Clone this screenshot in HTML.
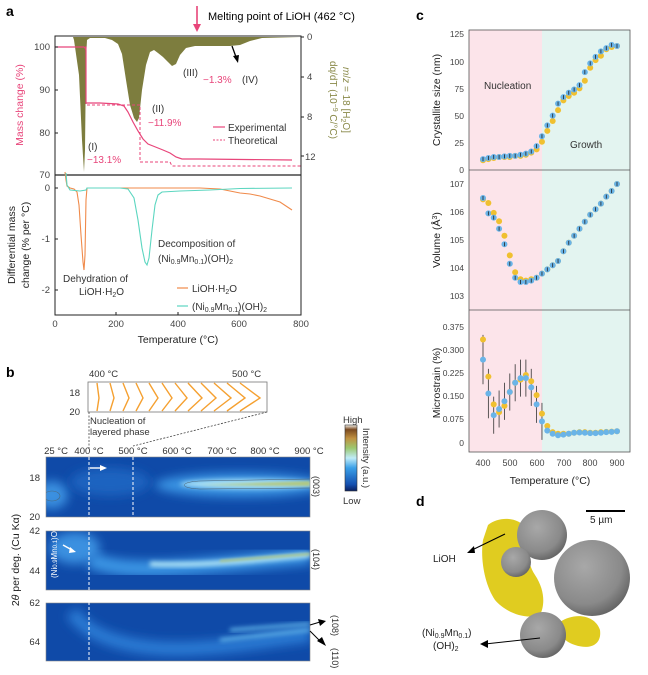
<!DOCTYPE html>
<html><head><meta charset="utf-8"><style>
html,body{margin:0;padding:0;background:#fff;}
svg{display:block;font-family:"Liberation Sans",sans-serif;}
</style></head><body>
<svg width="648" height="675" viewBox="0 0 648 675" xmlns="http://www.w3.org/2000/svg">
<defs>
<filter id="bl" x="-50%" y="-50%" width="200%" height="200%"><feGaussianBlur stdDeviation="5"/></filter>
<filter id="bl2" x="-50%" y="-50%" width="200%" height="200%"><feGaussianBlur stdDeviation="2.5"/></filter>
<filter id="bl3" x="-50%" y="-50%" width="200%" height="200%"><feGaussianBlur stdDeviation="1.2"/></filter>
<clipPath id="h1"><rect x="46" y="457" width="264" height="60"/></clipPath>
<clipPath id="h2"><rect x="46" y="531" width="264" height="59"/></clipPath>
<clipPath id="h3"><rect x="46" y="603" width="264" height="58"/></clipPath>
<radialGradient id="sp" cx="0.4" cy="0.35" r="0.7"><stop offset="0" stop-color="#a8a8a8"/><stop offset="0.7" stop-color="#8a8a8a"/><stop offset="1" stop-color="#606060"/></radialGradient>
<linearGradient id="cb" x1="0" y1="1" x2="0" y2="0">
<stop offset="0" stop-color="#0a1f60"/><stop offset="0.1" stop-color="#1450b0"/><stop offset="0.35" stop-color="#3aa0e8"/><stop offset="0.5" stop-color="#c0ecf8"/><stop offset="0.65" stop-color="#9cc870"/><stop offset="0.8" stop-color="#c09040"/><stop offset="0.93" stop-color="#7a4a20"/><stop offset="1" stop-color="#f4f0e8"/></linearGradient>
</defs>

<text x="6" y="16" font-size="14" font-weight="bold">a</text>
<text x="208" y="20" font-size="11">Melting point of LiOH (462 °C)</text>
<line x1="197" y1="6" x2="197" y2="27" stroke="#e8457a" stroke-width="1.6"/>
<path d="M193,24 L197,32 L201,24 Z" fill="#e8457a"/>

<path d="M73,37 L74,40 L79,75 L82,140 L84,172 L85,150 L86,60 L87,40 L90,38 L105,38 L112,40 L118,44 L122,54 L126,80 L130,105 L134,118 L137,122 L139,118 L142,90 L146,65 L150,52 L154,50 L158,53 L163,57 L168,62 L172,66 L176,64 L180,55 L186,48 L195,46 L230,46 L240,45 L250,41 L262,38 L301,37 Z" fill="#7d7d3e"/>
<polyline points="55,47 84,47 85,48 86,50 86,103 100,103 118,104 124,106 128,112 133,122 138,131 143,139 148,144 153,146 158,148 163,150 170,153 176,157 182,159 200,159 292,160" fill="none" stroke="#e8457a" stroke-width="1.2"/>
<polyline points="55,47 86,47 86,105 140,105 140,162 170,162 172,166 301,166" fill="none" stroke="#e8457a" stroke-width="1" stroke-dasharray="3,2"/>
<rect x="55" y="36" width="246" height="279" fill="none" stroke="#222" stroke-width="1"/>
<line x1="55" y1="175" x2="301" y2="175" stroke="#222" stroke-width="1.2"/>
<g font-size="9.5" text-anchor="end" fill="#444">
<text x="50" y="50">100</text><text x="50" y="93">90</text><text x="50" y="136">80</text><text x="50" y="178">70</text>
<text x="50" y="191">0</text><text x="50" y="242">-1</text><text x="50" y="293">-2</text>
</g>
<g stroke="#222"><line x1="55" y1="47" x2="58" y2="47"/><line x1="55" y1="90" x2="58" y2="90"/><line x1="55" y1="133" x2="58" y2="133"/>
<line x1="55" y1="188" x2="58" y2="188"/><line x1="55" y1="239" x2="58" y2="239"/><line x1="55" y1="290" x2="58" y2="290"/>
<line x1="301" y1="37" x2="304" y2="37"/><line x1="301" y1="77" x2="304" y2="77"/><line x1="301" y1="117" x2="304" y2="117"/><line x1="301" y1="156" x2="304" y2="156"/>
<line x1="116" y1="315" x2="116" y2="312"/><line x1="178" y1="315" x2="178" y2="312"/><line x1="239" y1="315" x2="239" y2="312"/></g>
<g font-size="9.5" fill="#444">
<text x="307" y="40">0</text><text x="307" y="80">4</text><text x="307" y="120">8</text><text x="305" y="160">12</text>
</g>
<g font-size="9.5" fill="#444" text-anchor="middle">
<text x="55" y="327">0</text><text x="116" y="327">200</text><text x="178" y="327">400</text><text x="239" y="327">600</text><text x="301" y="327">800</text>
</g>
<text x="178" y="343" font-size="10.5" text-anchor="middle" fill="#222">Temperature (°C)</text>
<text transform="translate(23,105) rotate(-90)" font-size="10.5" text-anchor="middle" fill="#e8457a">Mass change (%)</text>
<text transform="translate(343,100) rotate(90)" font-size="10" text-anchor="middle" fill="#8a8a4a"><tspan font-style="italic">m</tspan>/<tspan font-style="italic">z</tspan> = 18 [H<tspan font-size="7" dy="2">2</tspan><tspan dy="-2">O]</tspan></text>
<text transform="translate(330,100) rotate(90)" font-size="10" text-anchor="middle" fill="#8a8a4a">dq/dT (10<tspan font-size="7" dy="-3">−9</tspan><tspan dy="3"> C/°C)</tspan></text>
<g font-size="10">
<text x="88" y="150" fill="#333">(I)</text><text x="87" y="163" fill="#e8457a">−13.1%</text>
<text x="152" y="112" fill="#333">(II)</text><text x="148" y="126" fill="#e8457a">−11.9%</text>
<text x="183" y="76" fill="#333">(III)</text><text x="203" y="83" fill="#e8457a">−1.3%</text>
<text x="242" y="83" fill="#333">(IV)</text>
</g>
<line x1="232" y1="46" x2="236" y2="57" stroke="#000" stroke-width="1.3"/><path d="M233,56 L238,63 L239,55 Z" fill="#000"/>
<line x1="213" y1="127" x2="225" y2="127" stroke="#e8457a" stroke-width="1.2"/>
<text x="228" y="131" font-size="10" fill="#333">Experimental</text>
<line x1="213" y1="140" x2="225" y2="140" stroke="#e8457a" stroke-width="1" stroke-dasharray="2,1.5"/>
<text x="228" y="144" font-size="10" fill="#333">Theoretical</text>

<polyline points="65,172 66,180 67,186 70,188 74,189 77,192 79,205 81,235 83,262 84,270 85,255 86,200 87,188 100,188 200,188 220,189 230,191 240,193 250,194 260,196 270,199 280,202 292,210" fill="none" stroke="#f08a4a" stroke-width="1.1"/>
<polyline points="66,173 67,185 70,190 80,191 86,190 87,188 120,188 128,189 134,198 138,220 142,248 145,262 147,265 149,258 152,230 155,205 158,195 162,192 180,191 210,190 240,188.5 292,188" fill="none" stroke="#5cd6c0" stroke-width="1.1"/>
<g font-size="10" fill="#333">
<text x="63" y="282">Dehydration of</text><text x="79" y="295">LiOH·H<tspan font-size="7" dy="2">2</tspan><tspan dy="-2">O</tspan></text>
<text x="158" y="247">Decomposition of</text><text x="158" y="262">(Ni<tspan font-size="7" dy="2">0.9</tspan><tspan dy="-2">Mn</tspan><tspan font-size="7" dy="2">0.1</tspan><tspan dy="-2">)(OH)</tspan><tspan font-size="7" dy="2">2</tspan></text>
<text x="192" y="292">LiOH·H<tspan font-size="7" dy="2">2</tspan><tspan dy="-2">O</tspan></text>
<text x="192" y="310">(Ni<tspan font-size="7" dy="2">0.9</tspan><tspan dy="-2">Mn</tspan><tspan font-size="7" dy="2">0.1</tspan><tspan dy="-2">)(OH)</tspan><tspan font-size="7" dy="2">2</tspan></text>
</g>
<line x1="177" y1="288" x2="188" y2="288" stroke="#f08a4a" stroke-width="1.2"/>
<line x1="177" y1="306" x2="188" y2="306" stroke="#5cd6c0" stroke-width="1.2"/>
<text transform="translate(15,245) rotate(-90)" font-size="10.5" text-anchor="middle" fill="#222">Differential mass</text>
<text transform="translate(29,245) rotate(-90)" font-size="10.5" text-anchor="middle" fill="#222">change (% per °C)</text>

<text x="6" y="377" font-size="14" font-weight="bold">b</text>
<text x="89" y="377" font-size="9.5" fill="#333">400 °C</text>
<text x="232" y="377" font-size="9.5" fill="#333">500 °C</text>
<rect x="88" y="382" width="179" height="30" fill="#fff" stroke="#777" stroke-width="0.8"/>
<text x="80" y="396" font-size="9.5" text-anchor="end" fill="#333">18</text>
<text x="80" y="415" font-size="9.5" text-anchor="end" fill="#333">20</text>
<g fill="none" stroke="#f5a030" stroke-width="1.4">
<polyline points="97,383 99,398 97,411"/><polyline points="110,383 114,398 110,411"/><polyline points="123,383 129,398 123,411"/>
<polyline points="136,383 143,398 136,411"/><polyline points="149,383 158,398 149,411"/><polyline points="162,383 172,398 162,411"/>
<polyline points="175,383 187,398 175,411"/><polyline points="188,383 202,398 188,411"/><polyline points="201,383 216,398 201,411"/>
<polyline points="214,383 231,398 214,411"/><polyline points="227,383 245,398 227,411"/><polyline points="240,383 260,398 240,411"/>
</g>
<text x="90" y="424" font-size="9.5" fill="#333">Nucleation of</text>
<text x="90" y="435" font-size="9.5" fill="#333">layered phase</text>
<line x1="89" y1="412" x2="89" y2="449" stroke="#444" stroke-dasharray="2,1.5" stroke-width="0.8"/>
<line x1="267" y1="412" x2="133" y2="446" stroke="#444" stroke-dasharray="2,1.5" stroke-width="0.8"/>
<g font-size="9.5" fill="#333" text-anchor="middle">
<text x="56" y="454">25 °C</text><text x="89" y="454">400 °C</text><text x="133" y="454">500 °C</text><text x="177" y="454">600 °C</text><text x="222" y="454">700 °C</text><text x="265" y="454">800 °C</text><text x="309" y="454">900 °C</text>
</g>
<g clip-path="url(#h1)">
<rect x="46" y="457" width="264" height="60" fill="#0f4aa8"/>
<ellipse cx="52" cy="495" rx="16" ry="14" fill="#3a90e0" filter="url(#bl)"/>
<ellipse cx="110" cy="482" rx="40" ry="14" fill="#1c64c0" filter="url(#bl)"/>
<ellipse cx="240" cy="485" rx="85" ry="12" fill="#3a94e4" filter="url(#bl)"/>
<ellipse cx="250" cy="484" rx="70" ry="5" fill="#a8e0f6" filter="url(#bl2)"/>
<path d="M200,485 L310,481 L310,486 Z" fill="#b0c880" filter="url(#bl3)"/>
<ellipse cx="52" cy="496" rx="8" ry="5" fill="none" stroke="#4a6a80" stroke-width="0.6"/>
<path d="M310,479 L200,481 C180,482 178,488 200,489 L310,488" fill="none" stroke="#4a6070" stroke-width="0.5"/>
</g>
<rect x="46" y="457" width="264" height="60" fill="none" stroke="#888" stroke-width="0.6"/>
<g clip-path="url(#h2)">
<rect x="46" y="531" width="264" height="59" fill="#0f4aa8"/>
<ellipse cx="75" cy="548" rx="25" ry="16" fill="#3a90e0" filter="url(#bl)"/>
<path d="M90,560 C130,575 180,568 310,556" fill="none" stroke="#3a94e4" stroke-width="16" filter="url(#bl)"/>
<path d="M150,564 C200,566 250,561 310,555" fill="none" stroke="#b0e4f6" stroke-width="5" filter="url(#bl2)"/>
<path d="M220,561 L310,554" fill="none" stroke="#b0c880" stroke-width="2" filter="url(#bl3)"/>
</g>
<rect x="46" y="531" width="264" height="59" fill="none" stroke="#888" stroke-width="0.6"/>
<g clip-path="url(#h3)">
<rect x="46" y="603" width="264" height="58" fill="#0f4aa8"/>
<path d="M72,612 C90,640 140,652 200,648 C240,646 270,640 310,635" fill="none" stroke="#2a7ad4" stroke-width="14" filter="url(#bl)"/>
<path d="M230,630 L310,624" fill="none" stroke="#6ac0f0" stroke-width="3" filter="url(#bl2)"/>
<path d="M220,640 L310,630" fill="none" stroke="#6ac0f0" stroke-width="3" filter="url(#bl2)"/>
</g>
<rect x="46" y="603" width="264" height="58" fill="none" stroke="#888" stroke-width="0.6"/>
<g stroke="#fff" stroke-width="1" stroke-dasharray="3,2">
<line x1="89" y1="457" x2="89" y2="661"/><line x1="133" y1="457" x2="133" y2="517"/>
</g>
<line x1="90" y1="468" x2="101" y2="468" stroke="#fff" stroke-width="1.4"/><path d="M100,465 L107,468 L100,471 Z" fill="#fff"/>
<line x1="63" y1="545" x2="72" y2="550" stroke="#fff" stroke-width="1.4"/><path d="M70,547 L76,552 L69,553 Z" fill="#fff"/>
<text transform="translate(57,578) rotate(-90)" font-size="8" fill="#fff">(Ni<tspan font-size="6">0.9</tspan>Mn<tspan font-size="6">0.1</tspan>)O</text>
<g font-size="9.5" fill="#333" text-anchor="end">
<text x="40" y="481">18</text><text x="40" y="520">20</text><text x="40" y="534">42</text><text x="40" y="574">44</text><text x="40" y="606">62</text><text x="40" y="645">64</text>
</g>
<text transform="translate(19,560) rotate(-90)" font-size="10.5" text-anchor="middle" fill="#222">2<tspan font-style="italic">θ</tspan> per deg. (Cu Kα)</text>
<g font-size="9" fill="#333">
<text transform="translate(313,476) rotate(90)">(003)</text>
<text transform="translate(313,549) rotate(90)">(104)</text>
<text transform="translate(332,615) rotate(90)">(108)</text>
<text transform="translate(332,648) rotate(90)">(110)</text>
</g>
<line x1="310" y1="625" x2="320" y2="622" stroke="#000" stroke-width="1"/><path d="M318,619 L326,621 L320,626 Z" fill="#000"/>
<line x1="310" y1="631" x2="320" y2="641" stroke="#000" stroke-width="1"/><path d="M317,641 L326,646 L322,637 Z" fill="#000"/>
<text x="343" y="423" font-size="9.5" fill="#333">High</text>
<rect x="345" y="425" width="12" height="66" fill="url(#cb)" stroke="#333" stroke-width="0.6"/>
<text x="343" y="504" font-size="9.5" fill="#333">Low</text>
<text transform="translate(363,458) rotate(90)" font-size="9.5" text-anchor="middle" fill="#333">Intensity (a.u.)</text>

<text x="416" y="20" font-size="14" font-weight="bold">c</text>
<rect x="469" y="30" width="73" height="422" fill="#fce4ea"/>
<rect x="542" y="30" width="88" height="422" fill="#e3f4f0"/>
<rect x="469" y="30" width="161" height="422" fill="none" stroke="#555" stroke-width="0.8"/>
<line x1="469" y1="170" x2="630" y2="170" stroke="#555" stroke-width="0.8"/>
<line x1="469" y1="310" x2="630" y2="310" stroke="#555" stroke-width="0.8"/>
<text x="484" y="89" font-size="10" fill="#333">Nucleation</text>
<text x="570" y="148" font-size="10" fill="#333">Growth</text>
<g font-size="8.5" fill="#444" text-anchor="end">
<text x="464" y="37">125</text><text x="464" y="65">100</text><text x="464" y="92">75</text><text x="464" y="119">50</text><text x="464" y="146">25</text><text x="464" y="173">0</text>
<text x="464" y="187">107</text><text x="464" y="215">106</text><text x="464" y="243">105</text><text x="464" y="271">104</text><text x="464" y="299">103</text>
<text x="464" y="330">0.375</text><text x="464" y="353">0.300</text><text x="464" y="376">0.225</text><text x="464" y="399">0.150</text><text x="464" y="422">0.075</text><text x="464" y="446">0</text>
</g>
<g font-size="9" fill="#444" text-anchor="middle">
<text x="483" y="466">400</text><text x="510" y="466">500</text><text x="537" y="466">600</text><text x="564" y="466">700</text><text x="590" y="466">800</text><text x="617" y="466">900</text>
</g>
<text x="550" y="484" font-size="10.5" text-anchor="middle" fill="#222">Temperature (°C)</text>
<text transform="translate(440,100) rotate(-90)" font-size="10.5" text-anchor="middle" fill="#222">Crystallite size (nm)</text>
<text transform="translate(440,240) rotate(-90)" font-size="10.5" text-anchor="middle" fill="#222">Volume (Å<tspan font-size="7" dy="-3">3</tspan><tspan dy="3">)</tspan></text>
<text transform="translate(440,383) rotate(-90)" font-size="10.5" text-anchor="middle" fill="#222">Microstrain (%)</text>
<g id="cdata"></g>

<text x="416" y="506" font-size="14" font-weight="bold">d</text>
<line x1="586" y1="511" x2="625" y2="511" stroke="#000" stroke-width="2"/>
<text x="590" y="523" font-size="10" fill="#222">5 µm</text>
<path d="M488,525 C500,515 520,518 525,528 C530,545 525,560 535,575 C545,590 545,605 540,615 C525,620 505,612 495,600 C485,585 480,560 483,540 Z" fill="#e0cc20"/>
<path d="M560,622 C575,612 595,615 600,630 C602,645 590,650 575,645 C565,642 558,635 560,622 Z" fill="#e0cc20"/>
<circle cx="592" cy="578" r="38" fill="url(#sp)"/>
<circle cx="542" cy="535" r="25" fill="url(#sp)"/>
<circle cx="516" cy="562" r="15" fill="url(#sp)"/>
<circle cx="543" cy="635" r="23" fill="url(#sp)"/>
<text x="433" y="562" font-size="10" fill="#222">LiOH</text>
<line x1="505" y1="534" x2="470" y2="551" stroke="#000" stroke-width="1.1"/><path d="M467,553 L474,546 L475,553 Z" fill="#000"/>
<text x="422" y="636" font-size="10" fill="#222">(Ni<tspan font-size="7" dy="2">0.9</tspan><tspan dy="-2">Mn</tspan><tspan font-size="7" dy="2">0.1</tspan><tspan dy="-2">)</tspan></text>
<text x="433" y="649" font-size="10" fill="#222">(OH)<tspan font-size="7" dy="2">2</tspan></text>
<line x1="540" y1="638" x2="485" y2="644" stroke="#000" stroke-width="1.1"/><path d="M480,644 L488,640 L488,648 Z" fill="#000"/>
</svg>
<script>
(function(){
var g=document.getElementById('cdata'),h='';
function X(t){return 483+(t-400)*0.268;}
var sb=[10,11,12,12,12.5,13,13,14,15,17,22,31,41,50,61,67,71,74,78,90,98,104,109,112,115,114];
var sy=[9,10,11,12,12,12,13,13,14,16,19,26,36,45,55,64,68,71,75,82,94,101,105,111,113,114];
var vb=[106.5,105.95,105.8,105.4,104.85,104.15,103.65,103.5,103.5,103.55,103.65,103.8,103.95,104.1,104.25,104.6,104.9,105.15,105.4,105.65,105.9,106.1,106.3,106.55,106.75,107.0];
var vy=[106.45,106.32,105.97,105.67,105.15,104.45,103.85,103.6,103.55,103.6,103.65,103.8,103.95,104.1,104.25,104.6,104.9,105.15,105.4,105.65,105.9,106.1,106.3,106.55,106.75,107.0];
var mb=[.27,.16,.09,.11,.135,.165,.195,.21,.21,.18,.125,.07,.04,.03,.025,.027,.03,.033,.034,.033,.032,.032,.033,.035,.036,.038];
var my=[.335,.215,.125,.10,.12,.165,.195,.205,.22,.20,.155,.095,.055,.035,.03,.03,.03,.033,.035,.035,.033,.033,.035,.036,.037,.038];
function ys(v){return 170-v*1.088;} function yv(v){return 296-(v-103)*28;} function ym(v){return 443-v*309;}
for(var i=0;i<26;i++){var t=400+i*20,x=X(t);
 if(i<12){var e=i<2?0.08:0.06;h+='<line x1="'+x+'" x2="'+x+'" y1="'+ym(mb[i]+e)+'" y2="'+ym(Math.max(0,mb[i]-e))+'" stroke="#333" stroke-width="0.8"/>';}
 h+='<circle cx="'+x+'" cy="'+ys(sy[i])+'" r="3" fill="#f0c030"/>';
 h+='<circle cx="'+x+'" cy="'+yv(vy[i])+'" r="3" fill="#f0c030"/>';
 h+='<circle cx="'+x+'" cy="'+ym(my[i])+'" r="3" fill="#f0c030"/>';
 h+='<circle cx="'+x+'" cy="'+ys(sb[i])+'" r="3" fill="#6ab4e8"/>';
 h+='<circle cx="'+x+'" cy="'+yv(vb[i])+'" r="3" fill="#6ab4e8"/>';
 h+='<circle cx="'+x+'" cy="'+ym(mb[i])+'" r="3" fill="#6ab4e8"/>';
 h+='<line x1="'+x+'" x2="'+x+'" y1="'+(ys(sb[i])-2)+'" y2="'+(ys(sb[i])+2)+'" stroke="#222" stroke-width="0.8"/>';
 h+='<line x1="'+x+'" x2="'+x+'" y1="'+(yv(vb[i])-2)+'" y2="'+(yv(vb[i])+2)+'" stroke="#222" stroke-width="0.8"/>';
}
g.innerHTML=h;
})();
</script>
</body></html>
